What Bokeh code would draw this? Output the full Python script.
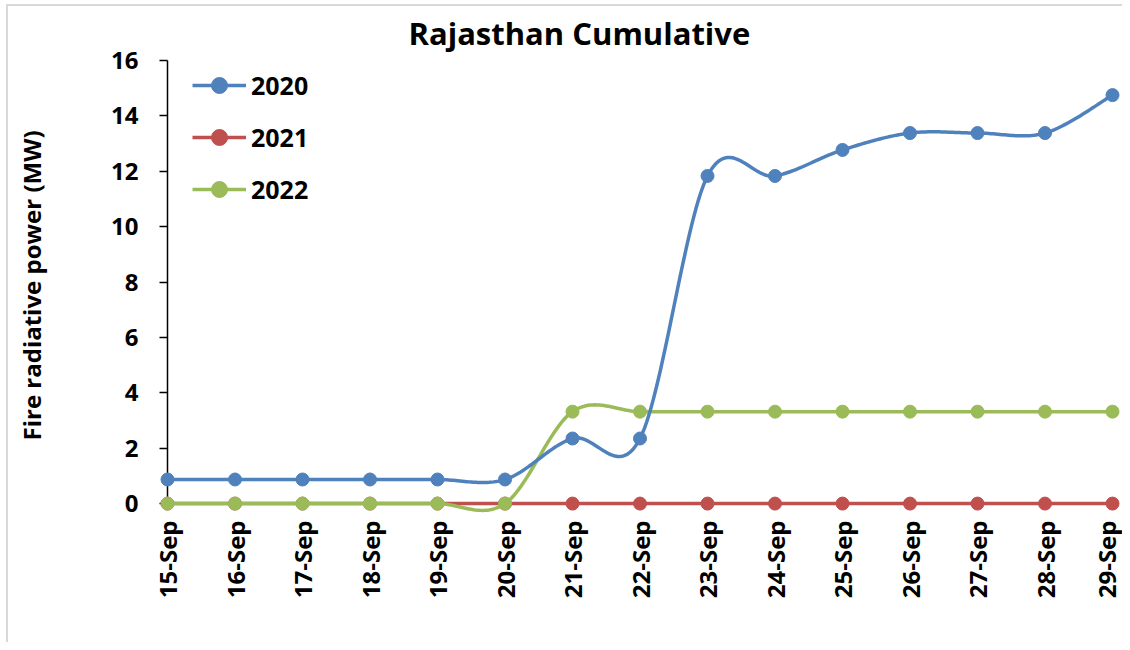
import math
import numpy as np
from bokeh.plotting import figure
from bokeh.models import FixedTicker, Range1d, Legend, LegendItem, LinearAxis, CustomLabelingPolicy
from bokeh.embed import file_html
from bokeh.resources import INLINE

# ---- data ----
dates = ["15-Sep", "16-Sep", "17-Sep", "18-Sep", "19-Sep", "20-Sep", "21-Sep", "22-Sep",
         "23-Sep", "24-Sep", "25-Sep", "26-Sep", "27-Sep", "28-Sep", "29-Sep"]
y2020 = [0.87, 0.87, 0.87, 0.87, 0.87, 0.87, 2.35, 2.35, 11.83, 11.83, 12.77, 13.38, 13.38, 13.38, 14.75]
y2021 = [0, 0, 0, 0, 0, 0, 0, 0, 0, 0, 0, 0, 0, 0, 0]
y2022 = [0, 0, 0, 0, 0, 0, 3.32, 3.32, 3.32, 3.32, 3.32, 3.32, 3.32, 3.32, 3.32]
series_names = ["2020", "2021", "2022"]
colors = ["#4F81BD", "#C0504D", "#9BBB59"]
y_ticks = [0, 2, 4, 6, 8, 10, 12, 14, 16]

FONT = "Open Sans"


def smooth(xs, ys, steps=30):
    """Excel-like smoothed line (Catmull-Rom as cubic Bezier)."""
    P = np.column_stack([xs, ys]).astype(float)
    n = len(P)
    out = [P[0]]
    for i in range(n - 1):
        p0 = P[i - 1] if i > 0 else P[i]
        p1 = P[i]
        p2 = P[i + 1]
        p3 = P[i + 2] if i + 2 < n else P[i + 1]
        c1 = p1 + (p2 - p0) / 6.0
        c2 = p2 - (p3 - p1) / 6.0
        t = np.linspace(0, 1, steps + 1)[1:, None]
        b = ((1 - t) ** 3) * p1 + 3 * ((1 - t) ** 2) * t * c1 + 3 * (1 - t) * t ** 2 * c2 + t ** 3 * p2
        out.extend(b)
    out = np.array(out)
    return out[:, 0], out[:, 1]


x = list(range(len(dates)))

p = figure(width=1122, height=642, output_backend="svg", toolbar_location=None,
           x_range=Range1d(-0.252, 14.148), y_range=Range1d(-0.43, 16.18),
           min_border_left=150, min_border_right=0, min_border_top=55, min_border_bottom=127)

# light grey chart-area border (top and left edges, as in the reference)
p.border_fill_alpha = 0
p.styles = {
    "background-color": "white",
    "background-image": "linear-gradient(#D9D9D9, #D9D9D9), linear-gradient(#D9D9D9, #D9D9D9)",
    "background-size": "2px 100%, 100% 2px",
    "background-position": "6px 4px, 6px 4px",
    "background-repeat": "no-repeat",
}

p.title.text = "Rajasthan Cumulative"
p.title.text_font = FONT
p.title.text_font_size = "31px"
p.title.text_font_style = "bold"
p.title.text_color = "black"
p.title.align = "left"
p.title.offset = 258
p.title.standoff = 4

p.outline_line_color = None
p.xgrid.visible = False
p.ygrid.visible = False
p.background_fill_color = "white"

hide_labels = CustomLabelingPolicy(code="return")

# ---- y axis: labels at the frame edge ----
ya = p.yaxis[0]
ya.ticker = FixedTicker(ticks=y_ticks)
ya.axis_line_color = None
ya.major_tick_line_color = None
ya.major_tick_out = 0
ya.major_tick_in = 0
ya.minor_tick_line_color = None
ya.major_label_text_font = FONT
ya.major_label_text_font_size = "24px"
ya.major_label_text_font_style = "bold"
ya.major_label_text_color = "black"
ya.major_label_standoff = 12
ya.axis_label = "Fire radiative power (MW)"
ya.axis_label_text_font = FONT
ya.axis_label_text_font_size = "24px"
ya.axis_label_text_font_style = "bold"
ya.axis_label_text_color = "black"
ya.axis_label_standoff = 60

# ---- y axis line and ticks at x = first category ----
yb = LinearAxis(fixed_location=0, ticker=FixedTicker(ticks=y_ticks), bounds=(0, 16),
                axis_line_color="black", axis_line_width=1.5,
                major_tick_line_color="black", major_tick_line_width=1.5,
                major_tick_out=8, major_tick_in=0, minor_tick_line_color=None,
                major_label_policy=hide_labels, major_label_text_font_size="2px",
                major_label_standoff=0, level="underlay")
p.add_layout(yb, "left")

# ---- x axis: labels at the frame edge ----
xa = p.xaxis[0]
xa.ticker = FixedTicker(ticks=x)
xa.major_label_overrides = {i: d for i, d in enumerate(dates)}
xa.axis_line_color = None
xa.major_tick_line_color = None
xa.major_tick_out = 0
xa.major_tick_in = 0
xa.minor_tick_line_color = None
xa.major_label_orientation = math.pi / 2
xa.major_label_text_font = FONT
xa.major_label_text_font_size = "24px"
xa.major_label_text_font_style = "bold"
xa.major_label_text_color = "black"
xa.major_label_standoff = 5

# ---- x axis line and ticks at y = 0 ----
xb = LinearAxis(fixed_location=0, ticker=FixedTicker(ticks=x), bounds=(0, 14),
                axis_line_color="black", axis_line_width=1.5,
                major_tick_line_color="black", major_tick_line_width=1.5,
                major_tick_out=6, major_tick_in=0, minor_tick_line_color=None,
                major_label_policy=hide_labels, major_label_text_font_size="2px",
                major_label_standoff=0, level="underlay")
p.add_layout(xb, "below")

all_series = {"2020": y2020, "2021": y2021, "2022": y2022}
items = {}
for name in ["2021", "2022", "2020"]:
    c = colors[series_names.index(name)]
    sx, sy = smooth(x, all_series[name])
    ln = p.line(sx, sy, line_color=c, line_width=3.5, line_join="round")
    sc = p.scatter(x, all_series[name], size=13, fill_color=c, line_color=c, marker="circle")
    items[name] = LegendItem(label=name, renderers=[ln, sc])

legend = Legend(items=[items[n] for n in series_names], location=(42, 306),
                glyph_width=54, glyph_height=40, label_height=40, spacing=12,
                padding=0, margin=0, label_standoff=5,
                label_text_font=FONT, label_text_font_size="25px",
                label_text_font_style="bold", label_text_color="black",
                border_line_color=None, background_fill_alpha=0)
p.add_layout(legend)

open("out.html", "w").write(file_html(p, INLINE))
